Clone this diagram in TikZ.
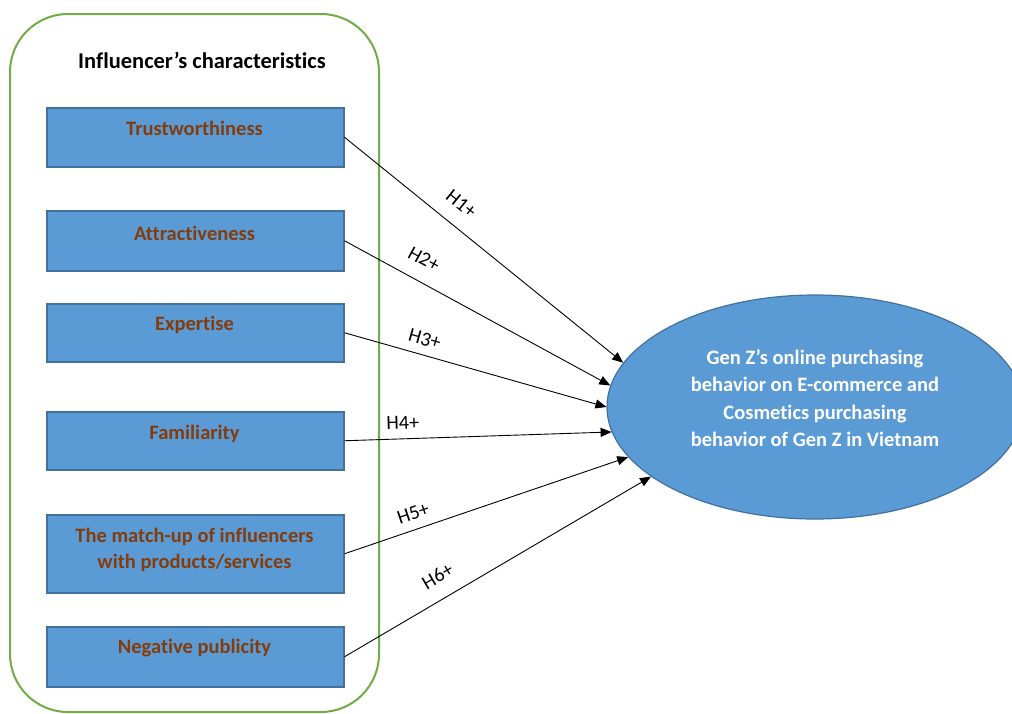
\documentclass[tikz,border=0pt]{standalone}
\usepackage{fontspec}
\setmainfont{Carlito}[Ligatures=NoCommon]
\usetikzlibrary{shapes.geometric,arrows.meta}
\definecolor{boxblue}{HTML}{5B9BD5}
\definecolor{boxedge}{HTML}{41719C}
\definecolor{frame}{HTML}{70AD47}
\definecolor{factortext}{HTML}{843C0C}
\tikzset{
  factor/.style={draw=boxedge, line width=1.5pt, fill=boxblue, minimum width=297pt, minimum height=#1, inner sep=0pt, anchor=north west},
  factorlabel/.style={font=\fontsize{20.5}{26}\selectfont\bfseries, text=factortext, align=center},
  hyp/.style={-{Triangle[length=11pt,width=9pt]}, line width=0.9pt, black},
  hyplabel/.style={font=\fontsize{20}{24}\selectfont, sloped, above=#1, inner sep=0pt},
  hyplabel/.default=9pt
}
\begin{document}
\begin{tikzpicture}[x=1pt,y=-1pt]
\useasboundingbox[fill=white] (0,0) rectangle (1012,713);
% grouping frame
\draw[frame, line width=2pt, rounded corners=58pt] (10,14) rectangle (379,712);
\node[font=\fontsize{22.5}{26}\selectfont\bfseries] (title) at (202,60) {Influencer’s characteristics};
% factor boxes
\node[factor=59pt] (b1) at (46,107) {};
\node[factor=60pt] (b2) at (46,210) {};
\node[factor=58pt] (b3) at (46,303) {};
\node[factor=58pt] (b4) at (46,411) {};
\node[factor=78pt] (b5) at (46,514) {};
\node[factor=60pt] (b6) at (46,626) {};
\node[factorlabel] (t1) at (194.5,128) {Trustworthiness};
\node[factorlabel] (t2) at (194.5,233) {Attractiveness};
\node[factorlabel] (t3) at (194.5,325) {Expertise};
\node[factorlabel] (t4) at (194.5,434) {Familiarity};
\node[factorlabel] (t5) at (194.5,550) {The match-up of influencers\\with products/services};
\node[factorlabel] (t6) at (194.5,648) {Negative publicity};
% outcome
\node[ellipse, draw=boxedge, line width=1.2pt, fill=boxblue, minimum width=416pt, minimum height=224pt, inner sep=0pt] (out) at (815,407) {};
\node[font=\fontsize{20.5}{27.5}\selectfont\bfseries, text=white, align=center] (outtxt) at (815,398)
  {Gen Z’s online purchasing\\behavior on E-commerce and\\Cosmetics purchasing\\behavior of Gen Z in Vietnam};
% hypotheses
\draw[hyp] (b1.east) -- node[hyplabel=15pt, pos=0.37] (h1) {H1+} (out.167.7);
\draw[hyp] (b2.east) -- node[hyplabel=15pt, pos=0.26] (h2) {H2+} (out.174.3);
\draw[hyp] (b3.east) -- node[hyplabel, pos=0.29] (h3) {H3+} (out.180);
\draw[hyp] (b4.east) -- node[hyplabel, pos=0.22] (h4) {H4+} (out.187.6);
\draw[hyp] (b5.east) -- node[hyplabel, pos=0.26] (h5) {H5+} (out.195.3);
\draw[hyp] (b6.east) -- node[hyplabel=15pt, pos=0.34] (h6) {H6+} (out.203.3);
\end{tikzpicture}
\end{document}
